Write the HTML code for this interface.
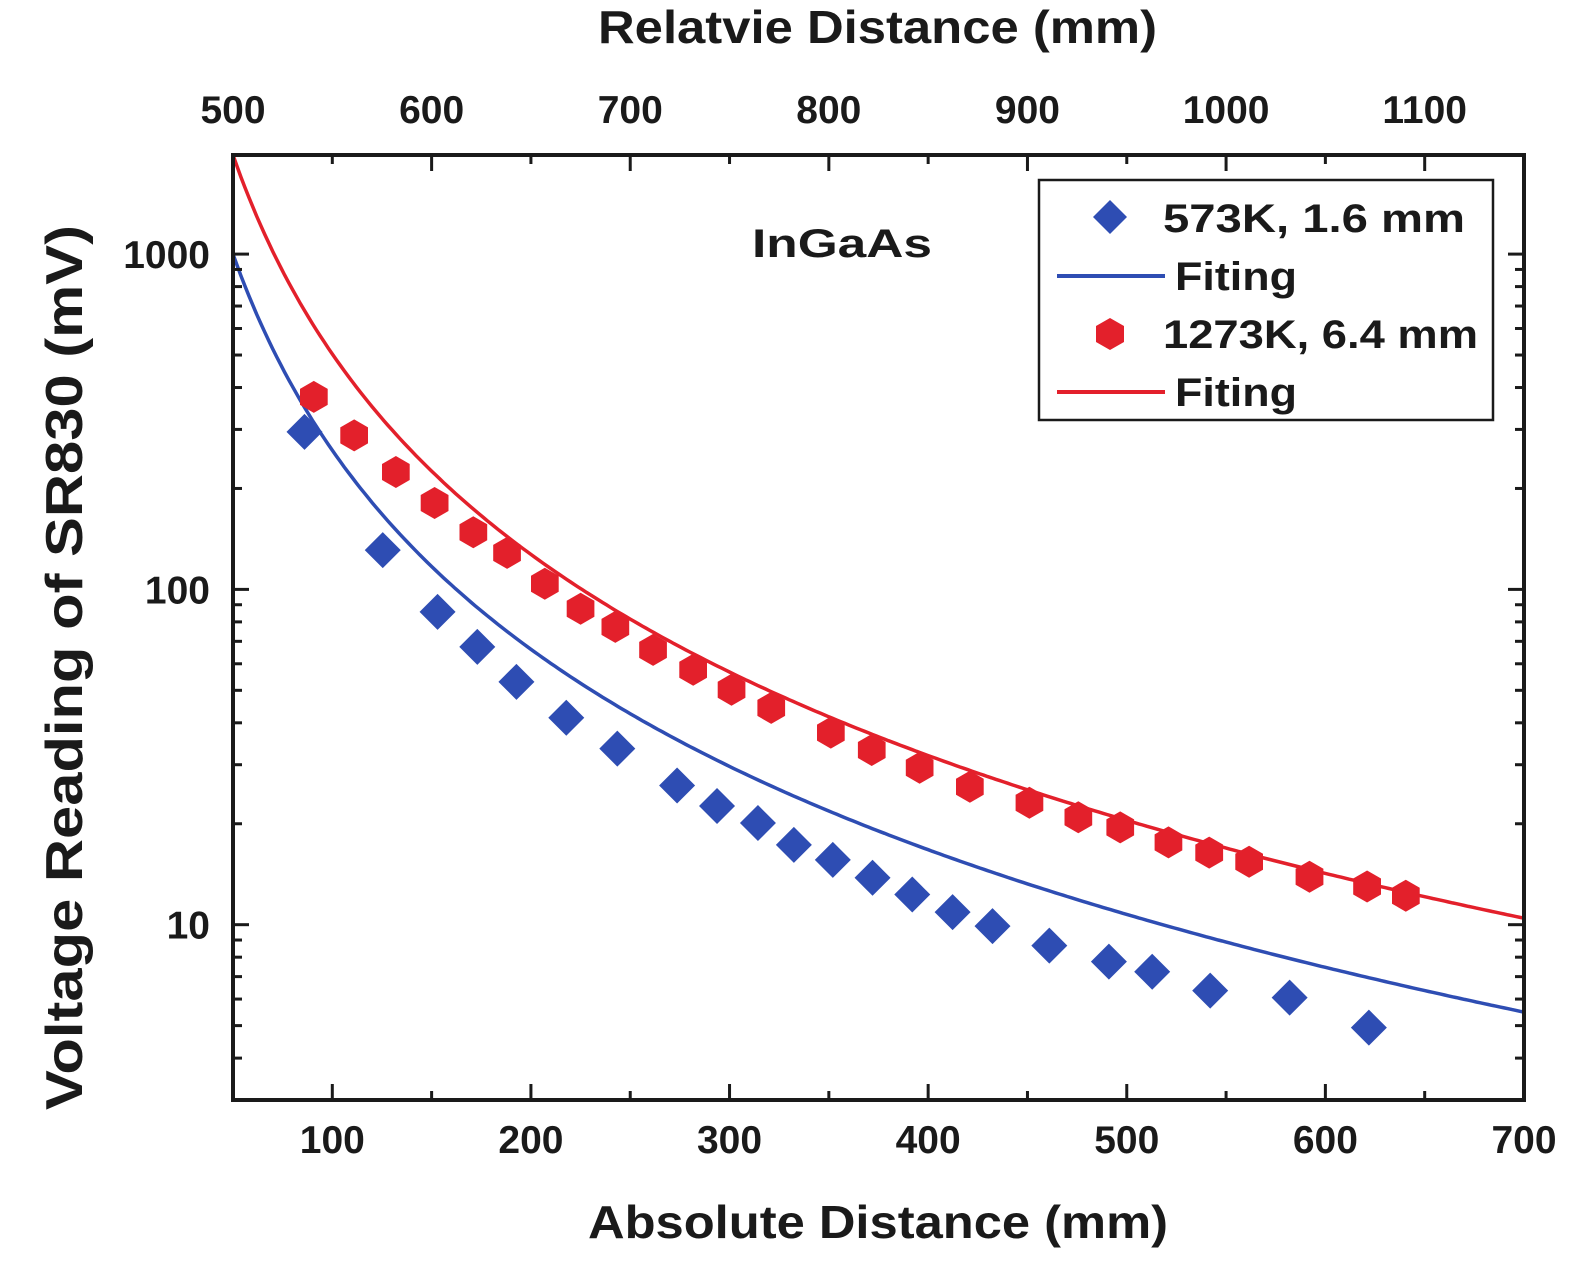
<!DOCTYPE html>
<html><head><meta charset="utf-8"><style>
html,body{margin:0;padding:0;background:#fff;}
svg text{font-family:"Liberation Sans",Arial,sans-serif;font-weight:bold;fill:#1a1a1a;}
</style></head><body>
<svg id="chart" width="1575" height="1278" viewBox="0 0 1575 1278" xmlns="http://www.w3.org/2000/svg">
<rect width="1575" height="1278" fill="#fff"/>
<g id="fits"></g>
<g id="marks"></g>
<g id="axes"></g>
<text x="588" y="1238" font-size="46" textLength="580" lengthAdjust="spacingAndGlyphs">Absolute Distance (mm)</text>
<text x="598" y="43" font-size="46" textLength="559" lengthAdjust="spacingAndGlyphs">Relatvie Distance (mm)</text>
<text transform="translate(82,1110) rotate(-90)" font-size="52" textLength="885" lengthAdjust="spacingAndGlyphs">Voltage Reading of SR830 (mV)</text>
<text x="752" y="257" font-size="40" textLength="180" lengthAdjust="spacingAndGlyphs">InGaAs</text>
<g>
<rect x="1039" y="180" width="454" height="240" fill="#fff" stroke="#1a1a1a" stroke-width="2.5"/>
<polygon points="1110,200 1127,217 1110,234 1093,217" fill="#2e4db3"/>
<text x="1163" y="232" font-size="40" textLength="302" lengthAdjust="spacingAndGlyphs">573K,  1.6 mm</text>
<line x1="1057" y1="276" x2="1165" y2="276" stroke="#2e4db3" stroke-width="4"/>
<text x="1175" y="290" font-size="40" textLength="122" lengthAdjust="spacingAndGlyphs">Fiting</text>
<polygon points="1110,318 1124,326 1124,342 1110,350 1096,342 1096,326" fill="#e3202b"/>
<text x="1163" y="348" font-size="40" textLength="315" lengthAdjust="spacingAndGlyphs">1273K, 6.4 mm</text>
<line x1="1057" y1="392" x2="1165" y2="392" stroke="#e3202b" stroke-width="4"/>
<text x="1175" y="406" font-size="40" textLength="122" lengthAdjust="spacingAndGlyphs">Fiting</text>
</g>
</svg>
<script>
const redX=[90.7,111,132,151.5,171,188,207,225,242.5,261.5,281.7,301,321,351,371.6,395.7,421,451,475.6,496.7,521,541.5,561.6,592,621,640.5];
const redY=[375,288,224,181,148,128.5,104,87.5,77.3,66,57.6,50.2,44.3,37.4,33.2,29.4,25.8,23.1,20.9,19.5,17.6,16.4,15.4,13.9,13.0,12.2];
const blueX=[86,125.4,153,173,192.7,217.8,243.5,273.6,293.7,314.3,332.4,352,372,392,412.3,432.4,461,491,512.8,542,582,621.9];
const blueY=[295,131,85.7,67.4,53,41.4,33.5,26,22.6,20.1,17.3,15.6,13.8,12.3,10.9,9.9,8.66,7.76,7.24,6.36,6.06,4.93];
const bottomTicks=[100,200,300,400,500,600,700];
const topTicks=[500,600,700,800,900,1000,1100];
const yTicks=[10,100,1000];
const blueFit=[1000*52*52,2];
const redFit=[1975*51*51,1];
const L=233,R=1524,T=155,B=1100;
const X0=50,X1=700,TX0=500,TX1=1150,Y0=3,Y1=1975;
const sx=v=>L+(v-X0)/(X1-X0)*(R-L);
const stx=v=>L+(v-TX0)/(TX1-TX0)*(R-L);
const sy=v=>B-(Math.log10(v)-Math.log10(Y0))/(Math.log10(Y1)-Math.log10(Y0))*(B-T);
const NS="http://www.w3.org/2000/svg";
function mk(tag,attrs,parent){const e=document.createElementNS(NS,tag);for(const k in attrs)e.setAttribute(k,attrs[k]);parent.appendChild(e);return e;}
const fits=document.getElementById('fits'),marks=document.getElementById('marks'),axes=document.getElementById('axes');
function fitPath(p){let d='';for(let x=X0;x<=X1;x+=2){let y=p[0]/Math.pow(x+p[1],2);y=Math.min(y,Y1);d+=(d?'L':'M')+sx(x).toFixed(1)+','+sy(y).toFixed(1);}return d;}
const fb=mk('path',{d:fitPath(blueFit),fill:'none',stroke:'#2e4db3','stroke-width':3.5},fits);


const fr=mk('path',{d:fitPath(redFit),fill:'none',stroke:'#e3202b','stroke-width':3.5},fits);


redX.forEach((x,i)=>{const cx=sx(x),cy=sy(redY[i]),r=16;let pts=[];for(let k=0;k<6;k++){const a=Math.PI/3*k+Math.PI/6;pts.push((cx+r*Math.cos(a)).toFixed(1)+','+(cy+r*Math.sin(a)).toFixed(1));}
const e=mk('polygon',{points:pts.join(' '),fill:'#e3202b'},marks);

});
blueX.forEach((x,i)=>{const cx=sx(x),cy=sy(blueY[i]),r=18;
const e=mk('polygon',{points:`${cx},${cy-r} ${cx+r},${cy} ${cx},${cy+r} ${cx-r},${cy}`,fill:'#2e4db3'},marks);

});
const frame=mk('rect',{x:L,y:T,width:R-L,height:B-T,fill:'none',stroke:'#1a1a1a','stroke-width':4},axes);


const tk={stroke:'#1a1a1a','stroke-width':3};
for(let v=X0;v<=X1;v+=50){const x=sx(v),len=(v%100===0)?16:9;mk('line',Object.assign({x1:x,y1:B,x2:x,y2:B-len},tk),axes);}
bottomTicks.forEach(v=>{const t=mk('text',{x:sx(v),y:1153,'font-size':39,'text-anchor':'middle'},axes);t.textContent=v;

});
for(let v=TX0;v<=TX1;v+=50){const x=stx(v),len=(v%100===0)?16:9;mk('line',Object.assign({x1:x,y1:T,x2:x,y2:T+len},tk),axes);}
topTicks.forEach(v=>{const t=mk('text',{x:stx(v),y:123,'font-size':39,'text-anchor':'middle'},axes);t.textContent=v;

});
for(let d=1;d<=1000;d*=10){for(let m=1;m<10;m++){const v=d*m;if(v<Y0||v>Y1)continue;const y=sy(v),len=m===1?16:9;
mk('line',Object.assign({x1:L,y1:y,x2:L+len,y2:y},tk),axes);mk('line',Object.assign({x1:R,y1:y,x2:R-len,y2:y},tk),axes);}}
yTicks.forEach(v=>{const t=mk('text',{x:210,y:sy(v)+14,'font-size':39,'text-anchor':'end'},axes);t.textContent=v;

});
</script>
</body></html>
